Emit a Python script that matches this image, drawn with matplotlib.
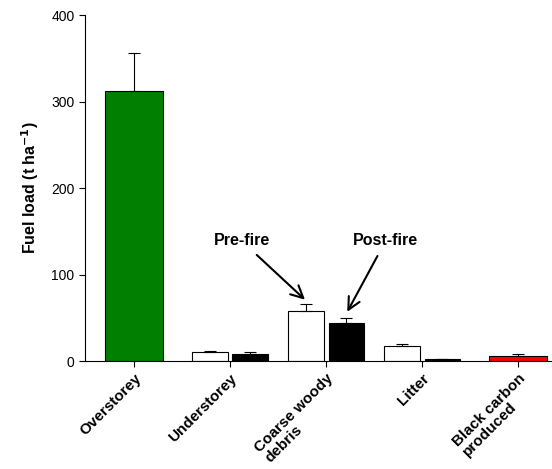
import numpy as np
import matplotlib
matplotlib.use("Agg")
import matplotlib.pyplot as plt
import matplotlib.transforms as mtransforms

plt.rcParams["font.family"] = ["Liberation Sans", "DejaVu Sans"]

# =====================================================
# Data
# =====================================================

categories = ["Overstorey", "Understorey", "Coarse woody\ndebris", "Litter", "Black carbon\nproduced"]

# single bars
single_idx = [0, 4]
single_vals = [312, 6]
single_err = [44, 1.7]
single_colors = ["#007f00", "#ff0000"]

# paired bars (pre / post fire)
paired_idx = [1, 2, 3]
pre_vals = [10, 58, 17.3]
pre_err = [1.5, 8, 2.7]
post_vals = [8, 44, 2.3]
post_err = [2, 6, 0.7]

# =====================================================
# Plot
# =====================================================

fig = plt.figure(figsize=(5.52, 4.69), dpi=100)
ax = fig.add_axes([0.154, 0.230, 0.844, 0.738])

err_kw = dict(ecolor="black", elinewidth=0.8, capsize=4, capthick=0.8)

ax.bar(single_idx, single_vals, width=0.6, color=single_colors,
       edgecolor="black", linewidth=0.8)
ax.errorbar(single_idx, single_vals, yerr=[np.zeros(2), single_err],
            fmt="none", **err_kw)

px = np.array(paired_idx)
ax.bar(px - 0.21, pre_vals, width=0.37, color="white",
       edgecolor="black", linewidth=0.8)
ax.errorbar(px - 0.21, pre_vals, yerr=[np.zeros(3), pre_err],
            fmt="none", **err_kw)
ax.bar(px + 0.21, post_vals, width=0.37, color="black",
       edgecolor="black", linewidth=0.8)
ax.errorbar(px + 0.21, post_vals, yerr=[np.zeros(3), post_err],
            fmt="none", **err_kw)

arrow_kw = dict(arrowstyle="->", color="black", lw=1.5,
                shrinkA=4, shrinkB=0, mutation_scale=22)
ax.annotate("Pre-fire", xy=(1.78, 71), xytext=(1.12, 139),
            ha="center", va="center", fontsize=11.5, fontweight="bold",
            arrowprops=arrow_kw)
ax.annotate("Post-fire", xy=(2.22, 57), xytext=(2.62, 139),
            ha="center", va="center", fontsize=11.5, fontweight="bold",
            arrowprops=arrow_kw)

ax.set_xlim(-0.51, 4.34)
ax.set_ylim(0, 400)
ax.set_yticks([0, 100, 200, 300, 400])
ax.set_xticks(range(len(categories)))
ax.set_xticklabels(categories, rotation=45, ha="right", va="top",
                   rotation_mode="anchor", multialignment="left",
                   fontsize=11, fontweight="bold", linespacing=1.0)
# nudge the rotated labels to the right like the original
shift = mtransforms.ScaledTranslation(0.08, 0, fig.dpi_scale_trans)
for lbl in ax.get_xticklabels():
    lbl.set_transform(lbl.get_transform() + shift)

ax.tick_params(axis="y", labelsize=10, length=4, width=0.8)
ax.tick_params(axis="x", length=4, width=0.8)

ax.spines["top"].set_visible(False)
ax.spines["right"].set_visible(False)
ax.spines["left"].set_linewidth(0.8)
ax.spines["bottom"].set_linewidth(0.8)

ax.set_ylabel("Fuel load (t ha$^{\\mathbf{-1}}$)", fontsize=11.5, fontweight="bold",
              labelpad=7)

fig.savefig("out.png", dpi=100)
